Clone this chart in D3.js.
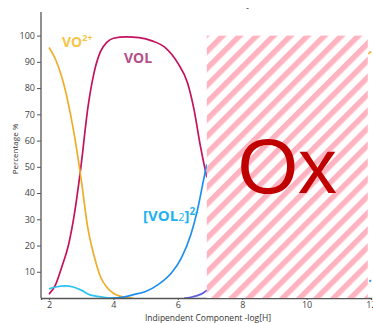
<!DOCTYPE html>
<html>
<head>
<meta charset="utf-8">
<script src="https://cdn.jsdelivr.net/npm/d3@7"></script>
<style>
  body { margin: 0; background: #fff; }
  svg { display: block; font-family: 'Open Sans', 'Noto Sans', sans-serif; }
</style>
</head>
<body>
<div id="chart"></div>
<script>
// species curves, [pH, percentage]
const vo2 = [[2.0, 95.5], [2.2, 91], [2.4, 84], [2.6, 74], [2.8, 61], [3.0, 45], [3.2, 27], [3.4, 16], [3.6, 8], [3.8, 4], [4.0, 1.8], [4.2, 0.7], [4.4, 0.2], [4.6, 0]]
const vol = [[2.0, 1.5], [2.2, 5], [2.4, 12], [2.6, 20], [2.8, 33], [3.0, 51], [3.2, 72], [3.4, 86], [3.6, 94], [3.8, 97.5], [4.0, 99], [4.4, 99.5], [4.8, 99.2], [5.2, 98], [5.6, 95.5], [6.0, 89.5], [6.3, 82], [6.5, 72], [6.7, 58], [6.9, 46]]
const vohl = [[2.0, 3.5], [2.25, 4.3], [2.5, 4.6], [2.75, 4.2], [3.0, 3.0], [3.25, 1.3], [3.5, 0.6], [3.75, 0.2], [4.0, 0.05], [4.3, 0]]
const vol2 = [[4.0, 0], [4.3, 0.3], [4.6, 1.2], [5.0, 2.5], [5.4, 5.2], [5.8, 9.5], [6.1, 15], [6.4, 24], [6.6, 33], [6.8, 45], [6.9, 51]]
const vol2h = [[6.2, 0], [6.4, 0.3], [6.6, 0.9], [6.8, 2.0], [6.9, 3]]
// bits still showing past the hidden area
const tailOrange = [[11.92, 93], [12.0, 94]]
const tailBlue = [[11.95, 6.2], [12.0, 6.8]]

const xTicks = [2, 4, 6, 8, 10, 12]
const yTicks = [10, 20, 30, 40, 50, 60, 70, 80, 90, 100]
const hidden = { x0: 6.9, x1: 11.9, y0: 0, y1: 100 }

const width = 373
const height = 323

const svg = d3.select('#chart').append('svg').attr('width', width).attr('height', height)

const xScale = d3.scaleLinear().domain([1.75, 12]).range([41, 371])
const yScale = d3.scaleLinear().domain([0, 109]).range([298, 12])

// hatch pattern
const defs = svg.append('defs')
const pat = defs.append('pattern').attr('id', 'hatch').attr('patternUnits', 'userSpaceOnUse')
  .attr('width', 12).attr('height', 12).attr('patternTransform', 'rotate(45)')
pat.append('rect').attr('width', 12).attr('height', 12).attr('fill', '#fff')
pat.append('rect').attr('width', 5.5).attr('height', 12).attr('fill', '#ffb3c0')

const line = d3.line().x(d => xScale(d[0])).y(d => yScale(d[1])).curve(d3.curveMonotoneX)

const series = [
  { data: vol, color: '#c4135e' },
  { data: vo2, color: '#f0ad2c' },
  { data: vohl, color: '#2cc3f2' },
  { data: vol2, color: '#1e8ff0' },
  { data: vol2h, color: '#5e5ee0' },
  { data: tailOrange, color: '#f0ad2c' },
  { data: tailBlue, color: '#1e8ff0' }
]
svg.selectAll('path.curve').data(series).enter().append('path').attr('class', 'curve')
  .attr('d', d => line(d.data))
  .attr('fill', 'none')
  .attr('stroke', d => d.color)
  .attr('stroke-width', 1.7)

// axes
const xAxis = d3.axisBottom(xScale).tickValues(xTicks).tickSize(2).tickPadding(2)
const gx = svg.append('g').attr('transform', `translate(0, ${yScale(0)})`).call(xAxis)
const yAxis = d3.axisLeft(yScale).tickValues(yTicks).tickSize(4).tickPadding(2)
const gy = svg.append('g').attr('transform', `translate(${xScale(1.75)}, 0)`).call(yAxis)
for (const g of [gx, gy]) {
  g.select('.domain').attr('stroke', '#555').attr('stroke-width', 1.3)
  g.selectAll('.tick line').attr('stroke', '#555')
  g.selectAll('.tick text').attr('fill', '#444').attr('font-size', 9).attr('font-family', "'Open Sans', sans-serif")
}
gy.select('.domain').attr('d', `M0,${yScale(109)}V${yScale(0)}`)

// hidden area
svg.append('rect')
  .attr('x', xScale(hidden.x0)).attr('y', yScale(hidden.y1))
  .attr('width', xScale(hidden.x1) - xScale(hidden.x0))
  .attr('height', yScale(hidden.y0) - yScale(hidden.y1))
  .attr('fill', 'url(#hatch)')

svg.append('text').text('Ox')
  .attr('x', (xScale(hidden.x0) + xScale(hidden.x1)) / 2).attr('y', 193)
  .attr('text-anchor', 'middle').attr('font-size', 78).attr('fill', '#c00000')
  .attr('font-family', "'Liberation Sans', Arial, sans-serif")

// axis titles
svg.append('text').text('Indipendent Component -log[H]')
  .attr('x', 208).attr('y', 321).attr('text-anchor', 'middle')
  .attr('font-size', 8.5).attr('fill', '#333')
svg.append('text').text('Percentage %')
  .attr('transform', 'translate(18, 149) rotate(-90)').attr('text-anchor', 'middle')
  .attr('font-size', 8).attr('fill', '#333')
svg.append('text').text('-').attr('x', 246).attr('y', 11).attr('font-size', 9).attr('fill', '#333')

// species labels
const lab1 = svg.append('text').attr('x', 62).attr('y', 47).attr('font-size', 14).attr('font-weight', 'bold').attr('fill', '#f8c548')
lab1.append('tspan').text('VO')
lab1.append('tspan').text('2+').attr('font-size', 9).attr('dy', -6)

svg.append('text').text('VOL').attr('x', 124).attr('y', 63)
  .attr('font-size', 14).attr('font-weight', 'bold').attr('fill', '#b44f8a')

const lab3 = svg.append('text').attr('x', 143).attr('y', 221).attr('font-size', 15).attr('font-weight', 'bold').attr('fill', '#1fb2f0')
lab3.append('tspan').text('[VOL')
lab3.append('tspan').text('2').attr('font-size', 11).attr('font-weight', 'normal')
lab3.append('tspan').text(']')
lab3.append('tspan').text('2-').attr('font-size', 10).attr('dy', -6)
</script>
</body>
</html>
